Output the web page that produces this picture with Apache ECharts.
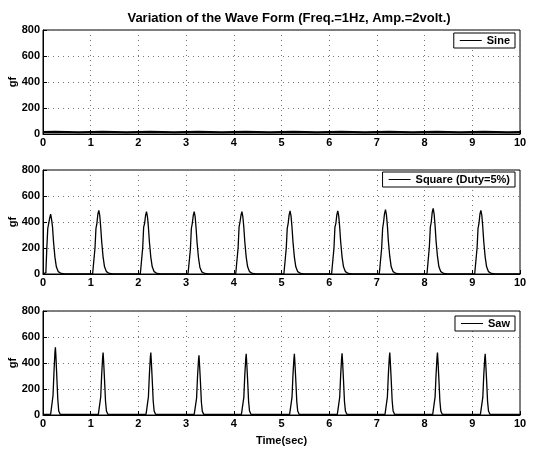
<!DOCTYPE html>
<html><head><meta charset="utf-8">
<script src="https://cdn.jsdelivr.net/npm/echarts@6/dist/echarts.min.js"></script>
<style>html,body{margin:0;padding:0;background:#fff}#c{width:533px;height:450px}</style>
</head><body><div id="c"></div>
<script>
const titleText = 'Variation of the Wave Form (Freq.=1Hz, Amp.=2volt.)';
const xTicks = [0,1,2,3,4,5,6,7,8,9,10];
const yTicks = [0,200,400,600,800];
const seriesNames = ['Sine', 'Square (Duty=5%)', 'Saw'];

const sineT = [0,0.25,0.5,0.75,1,1.25,1.5,1.75,2,2.25,2.5,2.75,3,3.25,3.5,3.75,4,4.25,4.5,4.75,5,5.25,5.5,5.75,6,6.25,6.5,6.75,7,7.25,7.5,7.75,8,8.25,8.5,8.75,9,9.25,9.5,9.75,10];
const sineV = [16,18,16,14,16,18,16,14,16,18,16,14,16,18,16,14,16,18,16,14,16,18,16,14,16,18,16,14,16,18,16,14,16,18,16,14,16,18,16,14,16];

const squareT = [
 0.00,0.03,0.06,0.08,0.10,0.12,0.14,0.16,0.18,0.20,0.22,0.25,0.28,0.32,0.38,0.46,
 1.04,1.07,1.09,1.11,1.13,1.15,1.17,1.19,1.21,1.23,1.26,1.29,1.33,1.39,1.47,
 2.04,2.07,2.09,2.11,2.13,2.15,2.17,2.19,2.21,2.23,2.26,2.29,2.33,2.39,2.47,
 3.04,3.07,3.09,3.11,3.13,3.15,3.17,3.19,3.21,3.23,3.26,3.29,3.33,3.39,3.47,
 4.04,4.07,4.09,4.11,4.13,4.15,4.17,4.19,4.21,4.23,4.26,4.29,4.33,4.39,4.47,
 5.05,5.08,5.10,5.12,5.14,5.16,5.18,5.20,5.22,5.24,5.27,5.30,5.34,5.40,5.48,
 6.05,6.08,6.10,6.12,6.14,6.16,6.18,6.20,6.22,6.24,6.27,6.30,6.34,6.40,6.48,
 7.05,7.08,7.10,7.12,7.14,7.16,7.18,7.20,7.22,7.24,7.27,7.30,7.34,7.40,7.48,
 8.05,8.08,8.10,8.12,8.14,8.16,8.18,8.20,8.22,8.24,8.27,8.30,8.34,8.40,8.48,
 9.05,9.08,9.10,9.12,9.14,9.16,9.18,9.20,9.22,9.24,9.27,9.30,9.34,9.40,9.48,
 10.0];
const squareV = [
 0,0,10,200,350,390,430,460,420,360,250,130,55,18,4,0,
 0,10,200,350,390,460,490,450,360,250,130,55,18,4,0,
 0,10,200,360,390,450,480,440,360,250,130,55,18,4,0,
 0,10,190,350,390,450,480,440,350,240,125,50,16,4,0,
 0,10,200,360,400,450,480,440,360,250,130,55,18,4,0,
 0,10,200,350,390,455,485,445,360,250,130,55,18,4,0,
 0,10,200,360,390,455,485,445,360,250,130,55,18,4,0,
 0,10,200,350,400,465,495,455,370,255,135,55,18,4,0,
 0,10,210,360,400,475,505,460,370,255,135,55,18,4,0,
 0,10,200,350,390,460,490,450,360,250,130,55,18,4,0,
 0];

const sawT = [
 0.00,0.16,0.19,0.21,0.23,0.25,0.26,0.27,0.29,0.31,0.33,0.36,
 1.16,1.19,1.21,1.23,1.25,1.26,1.27,1.29,1.31,1.33,1.36,
 2.16,2.19,2.21,2.23,2.25,2.26,2.27,2.29,2.31,2.33,2.36,
 3.17,3.20,3.22,3.24,3.26,3.27,3.28,3.30,3.32,3.34,3.37,
 4.16,4.19,4.21,4.23,4.25,4.26,4.27,4.29,4.31,4.33,4.36,
 5.17,5.20,5.22,5.24,5.26,5.27,5.28,5.30,5.32,5.34,5.37,
 6.17,6.20,6.22,6.24,6.26,6.27,6.28,6.30,6.32,6.34,6.37,
 7.17,7.20,7.22,7.24,7.26,7.27,7.28,7.30,7.32,7.34,7.37,
 8.17,8.20,8.22,8.24,8.26,8.27,8.28,8.30,8.32,8.34,8.37,
 9.17,9.20,9.22,9.24,9.26,9.27,9.28,9.30,9.32,9.34,9.37,
 10.0];
const sawV = [
 5,5,20,150,330,480,520,460,290,120,30,5,
 5,20,140,310,440,480,420,270,110,30,5,
 5,20,140,310,440,480,420,270,110,30,5,
 5,20,130,300,420,460,400,260,100,28,5,
 5,20,135,305,430,470,410,265,105,30,5,
 5,20,135,305,430,470,410,265,105,30,5,
 5,20,135,305,435,475,415,265,105,30,5,
 5,20,140,310,440,480,420,270,110,30,5,
 5,20,140,310,440,480,420,270,110,30,5,
 5,20,135,305,430,470,410,265,105,30,5,
 5];

const zip = (t, v) => t.map((x, i) => [x, v[i]]);
const font = 'Liberation Sans, Arial, sans-serif';
const tops = [30, 170, 311];
const H = 104;
const legendTops = [33, 172, 316];

const grids = tops.map(t => ({left: 43, right: 13, top: t, height: H, show: true, borderColor: '#000', borderWidth: 1, backgroundColor: '#fff', containLabel: false, outerBoundsMode: 'none'}));
const gridLine = {show: true, lineStyle: {color: '#777', type: [1, 4], width: 1}};
const xAxes = tops.map((t, i) => ({
  type: 'value', gridIndex: i, min: 0, max: 10, interval: 1,
  axisLine: {show: true, onZero: false, lineStyle: {color: '#000', width: 1}},
  axisTick: {show: true, inside: true, length: 4, lineStyle: {color: '#000'}},
  axisLabel: {color: '#000', fontFamily: font, fontWeight: 'bold', fontSize: 11, margin: 3},
  splitLine: gridLine,
  name: i === 2 ? 'Time(sec)' : '', nameLocation: 'middle', nameGap: 20,
  nameTextStyle: {color: '#000', fontFamily: font, fontWeight: 'bold', fontSize: 11}
}));
const yAxes = tops.map((t, i) => ({
  type: 'value', gridIndex: i, min: 0, max: 800, interval: 200,
  axisLine: {show: true, lineStyle: {color: '#000', width: 1}},
  axisTick: {show: true, inside: true, length: 4, lineStyle: {color: '#000'}},
  axisLabel: {color: '#000', fontFamily: font, fontWeight: 'bold', fontSize: 11, margin: 3},
  splitLine: gridLine,
  name: 'gf', nameLocation: 'middle', nameGap: 25, nameRotate: 90, nameMoveOverlap: false,
  nameTextStyle: {color: '#000', fontFamily: font, fontWeight: 'bold', fontSize: 11}
}));
const datas = [zip(sineT, sineV), zip(squareT, squareV), zip(sawT, sawV)];
const series = seriesNames.map((n, i) => ({
  name: n, type: 'line', xAxisIndex: i, yAxisIndex: i, data: datas[i],
  showSymbol: false, symbol: 'none', animation: false,
  lineStyle: {color: '#000', width: i === 0 ? 2 : 1.3}, itemStyle: {color: '#000'}
}));
const legends = seriesNames.map((n, i) => ({
  data: [n], right: 18, top: legendTops[i], orient: 'horizontal',
  backgroundColor: '#fff', borderColor: '#000', borderWidth: 1, padding: [2, 5, 2, 6],
  icon: 'rect', itemWidth: 22, itemHeight: 1, itemGap: 6,
  textStyle: {color: '#000', fontFamily: font, fontWeight: 'bold', fontSize: 11}
}));

const chart = echarts.init(document.getElementById('c'), null, {renderer: 'canvas'});
chart.setOption({
  animation: false,
  backgroundColor: '#fff',
  title: {text: titleText, left: 284, textAlign: 'center', top: 7,
    textStyle: {color: '#000', fontFamily: font, fontWeight: 'bold', fontSize: 13}},
  grid: grids, xAxis: xAxes, yAxis: yAxes, series: series, legend: legends
});
</script></body></html>
